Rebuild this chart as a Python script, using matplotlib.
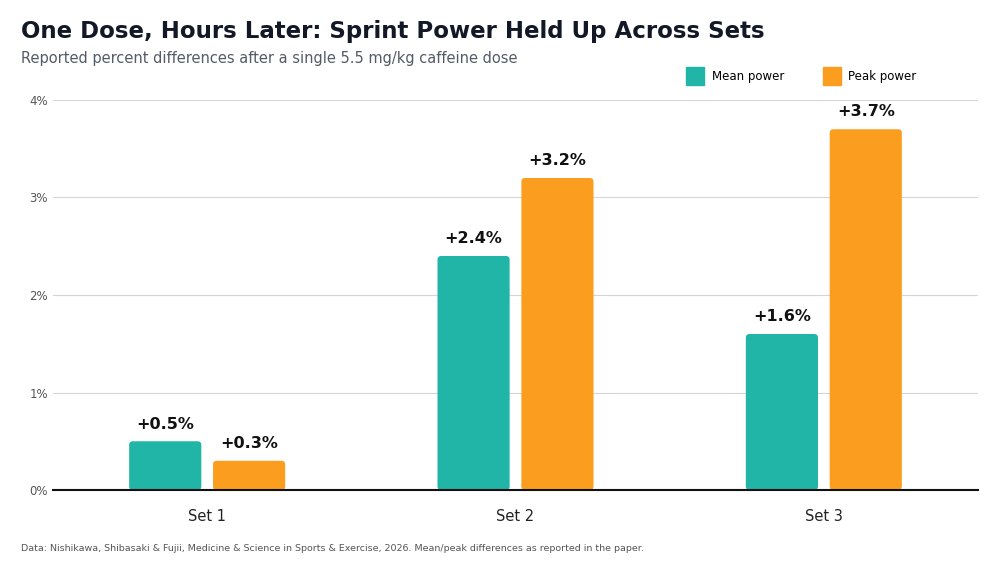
import matplotlib
matplotlib.use("Agg")
import matplotlib.pyplot as plt
from matplotlib.patches import FancyBboxPatch
from matplotlib.lines import Line2D

sets = ["Set 1", "Set 2", "Set 3"]
mean_power = [0.5, 2.4, 1.6]
peak_power = [0.3, 3.2, 3.7]
yticks = [0, 1, 2, 3, 4]

TEAL = "#20B5A6"
ORANGE = "#FB9E1F"

fig = plt.figure(figsize=(10, 5.74), dpi=100)
ax = fig.add_axes([0.053, 0.1463, 0.925, 0.6795])
ax.set_xlim(-0.5, 2.5)
ax.set_ylim(0, 4)

w = 0.234
off = 0.136
asp = (4 / 390) * 308
for i, (m, p) in enumerate(zip(mean_power, peak_power)):
    for x, v, c in ((i - off, m, TEAL), (i + off, p, ORANGE)):
        patch = FancyBboxPatch((x - w / 2, 0), w, v,
                               boxstyle="round,pad=0,rounding_size=0.012",
                               mutation_aspect=asp, fc=c, ec="none", zorder=3)
        ax.add_patch(patch)
        ax.text(x, v + 0.1, f"+{v:.1f}%", ha="center", va="bottom",
                fontsize=11.5, fontweight="bold", color="#111111", zorder=4)

ax.set_yticks(yticks)
ax.set_yticklabels([f"{t}%" for t in yticks], fontsize=8.5, color="#555555")
ax.set_xticks(range(len(sets)))
ax.set_xticklabels(sets, fontsize=10.5, color="#222222")
ax.tick_params(axis="both", length=0)
ax.tick_params(axis="x", pad=14)
ax.grid(axis="y", color="#D5D5D5", linewidth=0.8, zorder=0)
for s in ["top", "right", "left"]:
    ax.spines[s].set_visible(False)
ax.spines["bottom"].set_color("#111111")
ax.spines["bottom"].set_linewidth(1.5)
ax.spines["bottom"].set_zorder(5)

fig.text(0.021, 0.945, "One Dose, Hours Later: Sprint Power Held Up Across Sets",
         fontsize=16.5, fontweight="bold", color="#121826", va="center")
fig.text(0.021, 0.898, "Reported percent differences after a single 5.5 mg/kg caffeine dose",
         fontsize=10.5, color="#555b66", va="center")
fig.text(0.021, 0.045, "Data: Nishikawa, Shibasaki & Fujii, Medicine & Science in Sports & Exercise, 2026. Mean/peak differences as reported in the paper.",
         fontsize=6.8, color="#555555", va="center")

handles = [Line2D([], [], marker="s", ls="none", markersize=13, color=TEAL),
           Line2D([], [], marker="s", ls="none", markersize=13, color=ORANGE)]
fig.legend(handles, ["Mean power", "Peak power"], loc="center",
           bbox_to_anchor=(0.8, 0.866), ncol=2, frameon=False, fontsize=8.5,
           handletextpad=0.4, columnspacing=3.0)

fig.savefig("out.png", dpi=100)
